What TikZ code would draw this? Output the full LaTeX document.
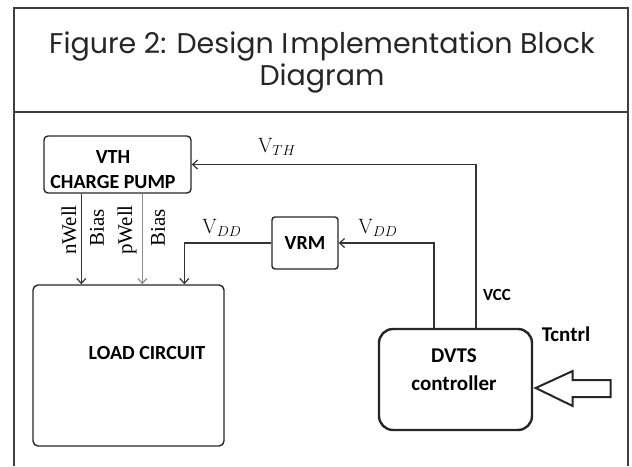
\documentclass[tikz,border=0pt]{standalone}
\usepackage[no-math]{fontspec}
\newfontfamily\titlefont{Poppins}
\newfontfamily\blockfont{Carlito}
\newfontfamily\seriffont{Liberation Serif}
\usetikzlibrary{arrows.meta,calc}
\begin{document}
\begin{tikzpicture}[x=1pt,y=-1pt,
  line/.style={draw=black!80, line width=1.2pt},
  arr/.style={line, -{Straight Barb[length=5pt,width=9pt,line width=1.2pt]}},
  blockbox/.style={draw=black!85, line width=1.4pt, rounded corners=4pt, inner sep=0pt},
  btext/.style={font=\blockfont\bfseries\fontsize{20}{25}\selectfont, align=center, inner sep=0pt},
  vlab/.style={font=\fontsize{20}{24}\selectfont, inner sep=0pt},
  rlab/.style={font=\seriffont\fontsize{21}{24}\selectfont, rotate=90, inner sep=0pt},
  frame/.style={draw=black!75, line width=1.5pt}
]
\useasboundingbox (0,0) rectangle (632,466);
% frame
\draw[frame] (14,466) -- (14,8) -- (628,8) -- (628,466);
\draw[frame] (14,112) -- (628,112);
\node[font=\titlefont\fontsize{28.5}{32}\selectfont, align=center, inner sep=0pt, text=black!85] (title) at (322,63) {Figure 2: Design I\kern2pt mplementation Block\\Diagram};
% boxes
\node[blockbox, minimum width=147pt, minimum height=57pt] (vth) at (117.5,164.5) {};
\node[btext] (vthtext) at (113,170) {VTH\\CHARGE PUMP};
\node[blockbox, rounded corners=3pt, minimum width=66pt, minimum height=52pt, btext] (vrm) at (305,243) {VRM};
\node[blockbox, rounded corners=5pt, minimum width=191pt, minimum height=161pt] (load) at (128.5,365.5) {};
\node[btext] (loadtext) at (147,353) {LOAD CIRCUIT};
\node[blockbox, line width=2.4pt, rounded corners=14pt, minimum width=153pt, minimum height=101pt] (dvts) at (455.5,379.5) {};
\node[btext, font=\blockfont\bfseries\fontsize{21}{28}\selectfont] (dvtstext) at (454,370) {DVTS\\controller};
% connectors
\draw[arr] ($(dvts.north)+(20.5,0)$) |- (vth.east);
\draw[arr] ($(dvts.north)+(-21.5,0)$) |- (vrm.east);
\draw[arr] (vrm.west) -| ($(load.north west)+(152,0)$);
\draw[arr] ($(vth.south west)+(38,0)$) -- ($(load.north west)+(49,0)$);
\draw[arr, draw=black!45] ($(vth.south west)+(99,0)$) -- ($(load.north west)+(110,0)$);
% labels
\node[vlab] (vthlab) at (277,147) {$\mathrm{V}_{TH}$};
\node[vlab] (vddl) at (222,228) {$\mathrm{V}_{DD}$};
\node[vlab] (vddr) at (378,228) {$\mathrm{V}_{DD}$};
\node[rlab] (nwell) at (69,230) {nWell};
\node[rlab] (bias1) at (97,228) {Bias};
\node[rlab] (pwell) at (127,230) {pWell};
\node[rlab] (bias2) at (158,228) {Bias};
\node[btext, font=\blockfont\bfseries\fontsize{17}{20}\selectfont] (vcc) at (497,295) {VCC};
\node[btext, font=\blockfont\bfseries\fontsize{21}{24}\selectfont] (tcntrl) at (566,334) {Tcntrl};
% hollow input arrow
\draw[draw=black!85, line width=2pt, line join=miter] ($(dvts.east)+(2.5,8.5)$) -- ++(37,-17) -- ++(0,9) -- ++(38,0) -- ++(0,17) -- ++(-38,0) -- ++(0,9) -- cycle;
\end{tikzpicture}
\end{document}
